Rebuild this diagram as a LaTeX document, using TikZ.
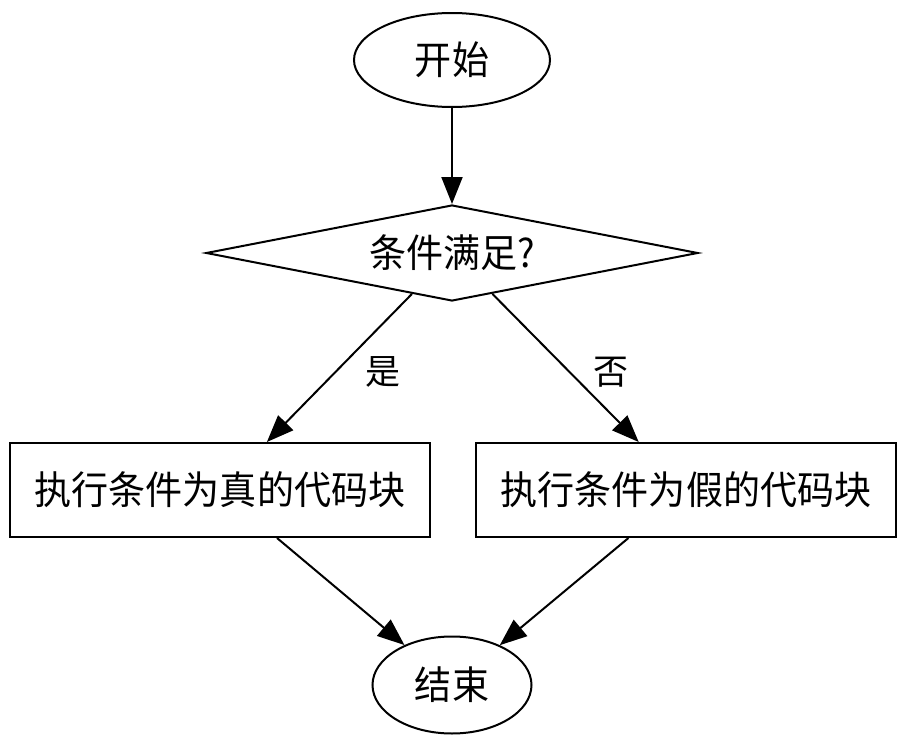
\documentclass[tikz,border=0pt]{standalone}
\usepackage{fontspec}
\setmainfont{Noto Sans CJK SC}
\newfontfamily\cjk[FakeStretch=0.95]{Noto Sans CJK SC}
\newfontfamily\cjklabel{Noto Sans CJK SC}
\usetikzlibrary{shapes.geometric,arrows.meta}
\begin{document}
\begin{tikzpicture}[x=1pt,y=-1pt,
  base/.style={draw=black,line width=2pt,inner sep=0pt,font=\cjk\fontsize{39}{39}\selectfont,text=black},
  oval/.style={base,ellipse},
  decision/.style={base,diamond,shape aspect=5.125},
  box/.style={base,rectangle,minimum width=420pt,minimum height=94pt},
  conn/.style={line width=2pt,-{Triangle[length=27pt,width=21pt]}},
  lbl/.style={font=\cjklabel\fontsize{35}{35}\selectfont,text=black,inner sep=0pt}]
\useasboundingbox (0,0) rectangle (906,744);
\node[oval,minimum width=196pt,minimum height=94pt] (start) at (452,60) {开始};
\node[decision,minimum width=492pt,minimum height=96pt] (cond) at (452,253) {条件满足?};
\node[box] (yes) at (220,490) {执行条件为真的代码块};
\node[box] (no) at (686,490) {执行条件为假的代码块};
\node[oval,minimum width=159pt,minimum height=97pt] (end) at (452,685) {结束};
\draw[conn] (start) -- (cond);
\draw[conn] (cond) -- (yes);
\draw[conn] (cond) -- (no);
\draw[conn] (yes) -- (end);
\draw[conn] (no) -- (end);
\node[lbl] (ly) at (383,372) {是};
\node[lbl] (ln) at (611,372) {否};
\end{tikzpicture}
\end{document}
